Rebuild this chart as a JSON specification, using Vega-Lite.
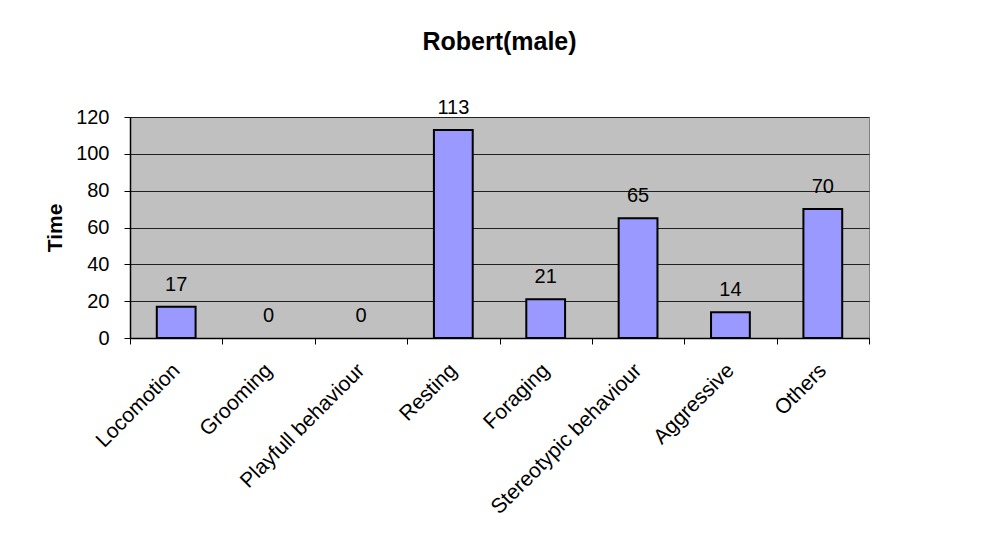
{
  "$schema": "https://vega.github.io/schema/vega-lite/v6.json",
  "width": 739,
  "height": 221,
  "autosize": {"type": "none"},
  "padding": {"left": 130, "top": 117, "right": 129, "bottom": 208},
  "background": "white",
  "title": {
    "text": "Robert(male)",
    "font": "Liberation Sans",
    "fontSize": 25,
    "fontWeight": "bold",
    "color": "black",
    "anchor": "middle",
    "baseline": "alphabetic",
    "offset": 23
  },
  "config": {
    "view": {"fill": "#c0c0c0", "stroke": "#808080", "strokeWidth": 1},
    "axis": {"labelFont": "Liberation Sans", "titleFont": "Liberation Sans", "labelColor": "black", "titleColor": "black", "domainColor": "black", "tickColor": "black"}
  },
  "data": {
    "values": [
      {"behaviour": "Locomotion", "time": 17},
      {"behaviour": "Grooming", "time": 0},
      {"behaviour": "Playfull behaviour", "time": 0},
      {"behaviour": "Resting", "time": 113},
      {"behaviour": "Foraging", "time": 21},
      {"behaviour": "Stereotypic behaviour", "time": 65},
      {"behaviour": "Aggressive", "time": 14},
      {"behaviour": "Others", "time": 70}
    ]
  },
  "encoding": {
    "x": {
      "field": "behaviour",
      "type": "nominal",
      "sort": null,
      "scale": {"paddingInner": 0, "paddingOuter": 0},
      "axis": {
        "title": null,
        "labelAngle": -45,
        "labelAlign": "right",
        "labelBaseline": "middle",
        "labelFontSize": 21,
        "labelPadding": 23,
        "labelLimit": 0,
        "tickBand": "extent",
        "tickSize": 6,
        "domainWidth": 1.5,
        "labelOverlap": false
      }
    },
    "y": {
      "field": "time",
      "type": "quantitative",
      "scale": {"domain": [0, 120], "nice": false},
      "axis": {
        "title": "Time",
        "titleFontSize": 21,
        "titleFontWeight": "bold",
        "titlePadding": 10,
        "values": [0, 20, 40, 60, 80, 100, 120],
        "labelFontSize": 20,
        "labelPadding": 15,
        "tickSize": 6,
        "gridColor": "#202020",
        "gridWidth": 1,
        "gridOpacity": 1,
        "domainWidth": 1.5
      }
    }
  },
  "layer": [
    {
      "mark": {"type": "bar", "fill": "#9999ff", "stroke": "black", "strokeWidth": 2, "width": {"band": 0.42}},
      "encoding": {
        "strokeOpacity": {"condition": {"test": "datum.time > 0", "value": 1}, "value": 0}
      }
    },
    {
      "mark": {"type": "text", "font": "Liberation Sans", "fontSize": 20, "color": "black", "baseline": "alphabetic", "dy": -16},
      "encoding": {"text": {"field": "time", "type": "quantitative"}}
    }
  ]
}
